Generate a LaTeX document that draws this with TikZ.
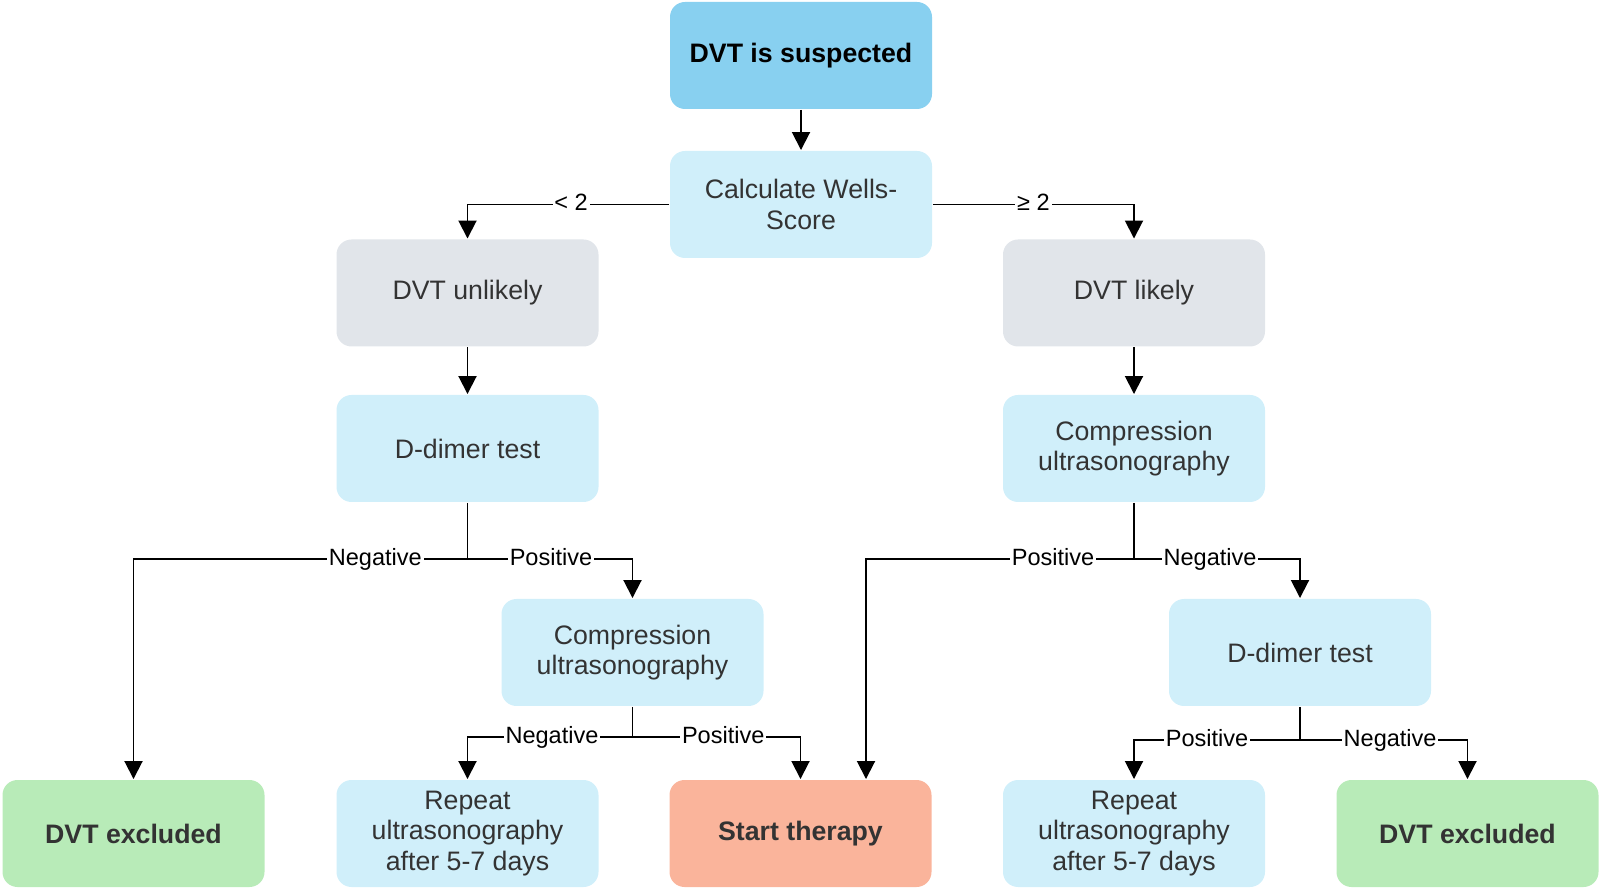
\documentclass[tikz,border=0pt]{standalone}
\usepackage{fontspec}
\setmainfont{Liberation Sans}
\usetikzlibrary{arrows.meta}
\definecolor{topblue}{HTML}{88D0F0}
\definecolor{lightblue}{HTML}{D0EFFA}
\definecolor{grey}{HTML}{E1E5EA}
\definecolor{green}{HTML}{B8EBB8}
\definecolor{salmon}{HTML}{FAB49B}
\definecolor{boxtext}{HTML}{333333}
\tikzstyle{box}=[shape=rectangle, rounded corners=.3cm, minimum width=5.24cm, minimum height=2.14cm, inner sep=0, align=center, text=boxtext, fill=lightblue, font=\fontsize{15.2}{17.4}\selectfont]
\tikzstyle{bbox}=[box, font=\fontsize{15.2}{17.4}\selectfont\bfseries]
\tikzstyle{lbl}=[fill=white, inner sep=1pt, text height=9.7pt, text depth=2.8pt, text=black, font=\fontsize{13.4}{15}\selectfont]
\tikzstyle{arr}=[-{Triangle[length=.36cm, width=.36cm]}]

\begin{document}
\begin{tikzpicture}[x=2cm, y=2cm, line width=1.1pt]
\useasboundingbox (0,0) rectangle (16,-8.91);
\node at (8.01,-.555)[bbox, fill=topblue, text=black](0){DVT is suspected};
\node at (8.01,-2.045)[box](1){Calculate Wells-\\Score};
\node at (4.675,-2.93)[box, fill=grey](2){DVT unlikely};
\node at (11.34,-2.93)[box, fill=grey](3){DVT likely};
\node at (4.675,-4.485)[box](4){D-dimer test};
\node at (11.34,-4.485)[box](5){Compression\\ultrasonography};
\node at (6.325,-6.525)[box](6){Compression\\ultrasonography};
\node at (13.00,-6.525)[box](7){D-dimer test};
\node at (1.335,-8.335)[bbox, fill=green](8){DVT excluded};
\node at (4.675,-8.335)[box](9){Repeat\\ultrasonography\\after 5-7 days};
\node at (8.005,-8.335)[bbox, fill=salmon](10){Start therapy};
\node at (11.34,-8.335)[box](11){Repeat\\ultrasonography\\after 5-7 days};
\node at (14.675,-8.335)[bbox, fill=green](12){DVT excluded};
\draw[arr] (0)--(1);
\draw[arr] (1.west) -| node[lbl, pos=.243]{< 2} (2.north);
\draw[arr] (1.east) -| node[lbl, pos=.25]{≥ 2} (3.north);
\draw[arr] (2)--(4);
\draw[arr] (3)--(5);
% left branch
\draw (4.south) -- ++(0,-.56) coordinate(a);
\draw[arr] (a) -| node[lbl, pos=.138]{Negative} (8.north);
\draw[arr] (a) -| node[lbl, pos=.253]{Positive} (6.north);
\draw (6.south) -- ++(0,-.3) coordinate(b);
\draw[arr] (b) -| node[lbl, pos=.244]{Negative} (9.north);
\draw[arr] (b) -| node[lbl, pos=.27]{Positive} (10.north);
% right branch
\draw (5.south) -- ++(0,-.56) coordinate(c);
\draw[arr] (c) -| node[lbl, pos=.151]{Positive} ([xshift=1.31cm]10.north);
\draw[arr] (c) -| node[lbl, pos=.229]{Negative} (7.north);
\draw (7.south) -- ++(0,-.33) coordinate(d);
\draw[arr] (d) -| node[lbl, pos=.28]{Positive} (11.north);
\draw[arr] (d) -| node[lbl, pos=.269]{Negative} (12.north);
\end{tikzpicture}
\end{document}
